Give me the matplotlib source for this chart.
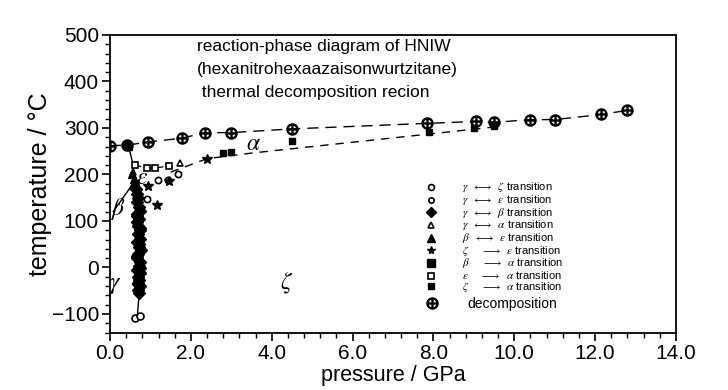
import matplotlib
matplotlib.use("Agg")
import matplotlib.pyplot as plt

plt.rcParams['font.family'] = ['Liberation Sans', 'DejaVu Sans']
plt.rcParams['mathtext.fontset'] = 'stix'

# ---------------- data (pressure GPa, temperature degC) ----------------
dec_P = [0.0, 0.42, 0.95, 1.78, 2.35, 3.0, 4.5, 7.85, 9.05, 9.5, 10.4, 11.0, 12.15, 12.8]
dec_T = [262, 263, 270, 278, 290, 290, 298, 310, 314, 312, 318, 318, 329, 338]

lower_P = [1.5, 2.4, 3.5, 9.5]
lower_T = [205, 234, 246, 302]

gz_P = [0.62, 0.74]            # gamma <-> zeta
gz_T = [-108, -104]
ge_P = [1.19, 1.44, 1.68, 0.91]  # gamma <-> epsilon
ge_T = [188, 188, 201, 147]
gb_P = [0.64, 0.66, 0.70, 0.66, 0.71, 0.74, 0.68, 0.72, 0.66, 0.70, 0.75, 0.69, 0.73, 0.67,
        0.71, 0.76, 0.70, 0.68, 0.74, 0.71, 0.67, 0.73, 0.70, 0.72, 0.69, 0.74, 0.70, 0.72,
        0.68, 0.75, 0.71, 0.66, 0.73, 0.69]
gb_T = [168, 158, 150, 140, 130, 122, 115, 105, 97, 90, 80, 72, 62, 55,
        45, 38, 30, 20, 12, 3, -5, -12, -20, -27, -33, -40, -48, -56,
        110, 85, 50, 25, -2, -35]
ga_P = [1.73, 0.58]            # gamma <-> alpha
ga_T = [224, 205]
be_P = [0.55, 0.60, 0.58, 0.63]  # beta <-> epsilon
be_T = [200, 190, 178, 185]
ze_P = [0.95, 1.16, 1.45, 2.4]  # zeta -> epsilon
ze_T = [176, 135, 186, 233]
ba_P = [0.45]                  # beta -> alpha
ba_T = [262]
ea_P = [0.62, 0.92, 1.12, 1.45]  # epsilon -> alpha
ea_T = [220, 214, 214, 218]
za_P = [2.8, 3.0, 4.5, 7.9, 9.0, 9.5]  # zeta -> alpha
za_T = [247, 249, 271, 291, 299, 305]

gamma_line_P = [0.45, 0.57, 0.62, 0.68, 0.72, 0.72, 0.68]
gamma_line_T = [263, 222, 180, 100, 0, -58, -100]
beta_line_P = [0.08, 0.55]
beta_line_T = [120, 178]

phase_labels = [r'$\alpha$', r'$\beta$', r'$\gamma$', r'$\zeta$', r'$\varepsilon$']
phase_P = [3.55, 0.2, 0.12, 4.37, 0.8]
phase_T = [266, 125, -38, -35, 192]

legend_labels = [
    r'$\gamma\ \ \longleftrightarrow\ \ \zeta$ transition',
    r'$\gamma\ \ \longleftrightarrow\ \ \varepsilon$ transition',
    r'$\gamma\ \ \longleftrightarrow\ \ \beta$ transition',
    r'$\gamma\ \ \longleftrightarrow\ \ \alpha$ transition',
    r'$\beta\ \ \longleftrightarrow\ \ \varepsilon$ transition',
    r'$\zeta\ \ \ \ \ \longrightarrow\ \ \varepsilon$ transition',
    r'$\beta\ \ \ \ \ \longrightarrow\ \ \alpha$ transition',
    r'$\varepsilon\ \ \ \ \ \longrightarrow\ \ \alpha$ transition',
    r'$\zeta\ \ \ \ \ \longrightarrow\ \ \alpha$ transition',
]
dec_label = 'decomposition'

title_lines = ['reaction-phase diagram of HNIW',
               '(hexanitrohexaazaisonwurtzitane)',
               ' thermal decomposition recion']

x_ticks = [0, 2, 4, 6, 8, 10, 12, 14]
y_ticks = [-100, 0, 100, 200, 300, 400, 500]

# ---------------- figure ----------------
fig = plt.figure(figsize=(7.28, 3.9), dpi=100)
ax = fig.add_axes([110 / 728, 1 - 333 / 390, 566 / 728, 298 / 390])

k = 'black'
ax.plot(dec_P, dec_T, ls=(0, (8, 5)), color=k, lw=1.0)
ax.plot(lower_P, lower_T, ls=(0, (6, 5)), color=k, lw=1.0)
ax.plot(ea_P, ea_T, ls=(0, (5, 4)), color=k, lw=0.9)
ax.plot(gamma_line_P, gamma_line_T, color=k, lw=1.0)
ax.plot(beta_line_P, beta_line_T, color=k, lw=1.0)

ms = 5
h_gz, = ax.plot(gz_P, gz_T, 'o', mfc='white', mec=k, mew=1.2, ms=ms, ls='none')
h_ge, = ax.plot(ge_P, ge_T, 'o', mfc='white', mec=k, mew=1.2, ms=ms - 0.5, ls='none')
h_gb, = ax.plot(gb_P, gb_T, 'D', mfc=k, mec=k, ms=ms + 1.5, ls='none')
h_ga, = ax.plot(ga_P, ga_T, '^', mfc='white', mec=k, mew=1.2, ms=ms, ls='none')
h_be, = ax.plot(be_P, be_T, '^', mfc=k, mec=k, ms=ms + 1, ls='none')
h_ze, = ax.plot(ze_P, ze_T, '*', mfc=k, mec=k, ms=ms + 2, ls='none')
h_ba, = ax.plot(ba_P, ba_T, 's', mfc=k, mec=k, ms=ms + 1, ls='none')
h_ea, = ax.plot(ea_P, ea_T, 's', mfc='white', mec=k, mew=1.2, ms=ms, ls='none')
h_za, = ax.plot(za_P, za_T, 's', mfc=k, mec=k, ms=ms, ls='none')
h_dec, = ax.plot(dec_P, dec_T, marker=r'$\oplus$', color=k, ms=8, ls='none')

for lab, p, t in zip(phase_labels, phase_P, phase_T):
    ax.text(p, t, lab, fontsize=17, ha='center', va='center')

for i, line in enumerate(title_lines):
    ax.text(197 / 728, 1 - (46 + 23.5 * i) / 390, line, transform=fig.transFigure,
            fontsize=12.5, ha='left', va='center')

leg1 = ax.legend([h_gz, h_ge, h_gb, h_ga, h_be, h_ze, h_ba, h_ea, h_za], legend_labels,
                 loc='upper left', bbox_to_anchor=(0.557, 0.512), frameon=False,
                 fontsize=8, handlelength=1.0, handletextpad=2.3,
                 labelspacing=-0.12, borderpad=0, borderaxespad=0, handleheight=0.5,
                 markerscale=0.85)
ax.add_artist(leg1)
ax.legend([h_dec], [dec_label], loc='upper left', bbox_to_anchor=(0.557, 0.122),
          frameon=False, fontsize=10, handlelength=1.0, handletextpad=2.0,
          borderpad=0, borderaxespad=0)

ax.set_xlim(0, 14)
ax.set_ylim(-141, 500)
ax.set_xticks(x_ticks)
ax.set_xticklabels([f'{v:.1f}' for v in x_ticks])
ax.set_yticks(y_ticks)
ax.set_xticks([i * 0.4 for i in range(36)], minor=True)
ax.set_yticks(list(range(-140, 501, 20)), minor=True)
ax.tick_params(axis='both', which='major', direction='out', length=6, width=1.2,
               labelsize=15, pad=2)
ax.tick_params(axis='both', which='minor', direction='out', length=3.5, width=1.0)
for s in ax.spines.values():
    s.set_linewidth(1.3)

ax.set_xlabel('pressure / GPa', fontsize=15.5, labelpad=1)
ax.set_ylabel('temperature / \u00b0C', fontsize=18, labelpad=0)

fig.savefig('out.png', dpi=100)
